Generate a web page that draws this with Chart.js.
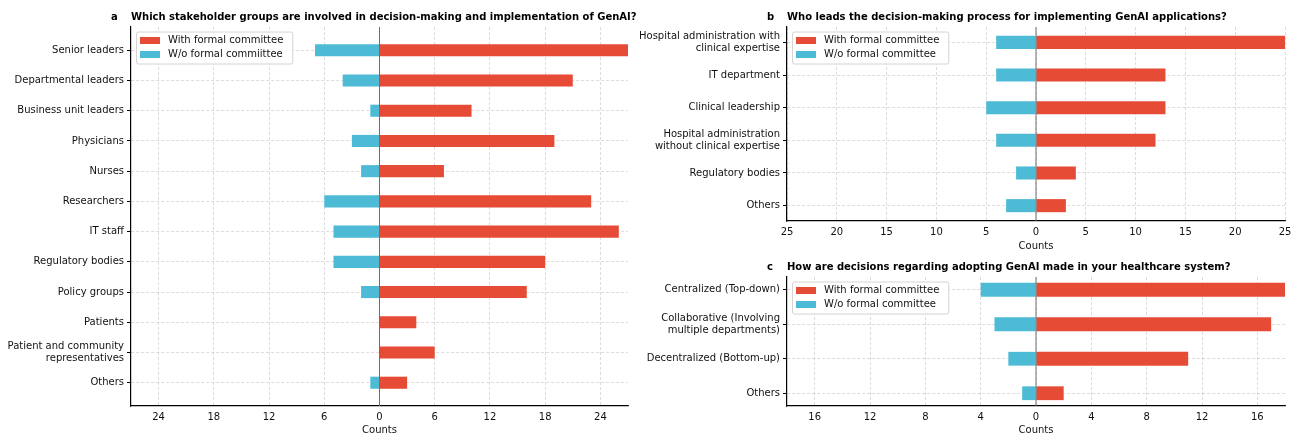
<!DOCTYPE html>
<html>
<head>
<meta charset="utf-8">
<title>GenAI governance survey</title>
<script src="https://cdn.jsdelivr.net/npm/chart.js@4.4.1/dist/chart.umd.min.js"></script>
<style>
  body { margin: 0; background: #fff; }
  #wrap { position: relative; width: 1298px; height: 434px; overflow: hidden; }
  #wrap canvas { position: absolute; }
</style>
</head>
<body>
<div id="wrap">
  <canvas id="chartA" width="640" height="440" style="left:0;top:0"></canvas>
  <canvas id="chartB" width="658" height="256" style="left:640px;top:0"></canvas>
  <canvas id="chartC" width="658" height="184" style="left:640px;top:256px"></canvas>
</div>
<script>
const COLOR_WITH = "#E64B35";
const COLOR_WITHOUT = "#4DBBD5";

// a - stakeholder groups
const stakeholderLabels = [
  "Senior leaders", "Departmental leaders", "Business unit leaders", "Physicians",
  "Nurses", "Researchers", "IT staff", "Regulatory bodies", "Policy groups",
  "Patients", ["Patient and community", "representatives"], "Others"
];
const stakeholderWith = [27, 21, 10, 19, 7, 23, 26, 18, 16, 4, 6, 3];
const stakeholderWithout = [7, 4, 1, 3, 2, 6, 5, 5, 2, 0, 0, 1];
const stakeholderTicks = [-24, -18, -12, -6, 0, 6, 12, 18, 24];

// b - who leads
const leadLabels = [
  ["Hospital administration with", "clinical expertise"], "IT department",
  "Clinical leadership", ["Hospital administration", "without clinical expertise"],
  "Regulatory bodies", "Others"
];
const leadWith = [25, 13, 13, 12, 4, 3];
const leadWithout = [4, 4, 5, 4, 2, 3];
const leadTicks = [-25, -20, -15, -10, -5, 0, 5, 10, 15, 20, 25];

// c - decision model
const modelLabels = [
  "Centralized (Top-down)", ["Collaborative (Involving", "multiple departments)"],
  "Decentralized (Bottom-up)", "Others"
];
const modelWith = [18, 17, 11, 2];
const modelWithout = [4, 3, 2, 1];
const modelTicks = [-16, -12, -8, -4, 0, 4, 8, 12, 16];

Chart.defaults.font.family = "'DejaVu Sans', sans-serif";
Chart.defaults.font.size = 10;
Chart.defaults.color = "#111";

const GRID_COLOR = "rgba(170,170,170,0.6)";

// zero line, panel title and the boxed legend in the upper left corner
const panelDecor = {
  id: "panelDecor",
  afterDraw(chart, args, o) {
    const { ctx, chartArea: area, scales } = chart;
    ctx.save();

    const x0 = scales.x.getPixelForValue(0);
    ctx.strokeStyle = "#6e6e6e";
    ctx.lineWidth = 1;
    ctx.beginPath();
    ctx.moveTo(x0, area.top);
    ctx.lineTo(x0, area.bottom);
    ctx.stroke();

    ctx.fillStyle = "#000";
    ctx.font = "bold 10px 'DejaVu Sans'";
    ctx.textBaseline = "middle";
    ctx.textAlign = "left";
    ctx.fillText(o.letter, area.left - 20, area.top - 10);
    ctx.fillText(o.title, area.left, area.top - 10);

    ctx.font = "10px 'DejaVu Sans'";
    const sets = chart.data.datasets;
    const textW = Math.max(...sets.map(d => ctx.measureText(d.label).width));
    const bx = area.left + 5, by = area.top + 4.5;
    const bw = 37 + textW + 4, bh = 32;
    ctx.fillStyle = "rgba(255,255,255,0.9)";
    ctx.strokeStyle = "#d4d4d4";
    ctx.lineWidth = 1;
    ctx.beginPath();
    ctx.roundRect(bx + 0.5, by + 0.5, bw, bh, 2);
    ctx.fill();
    ctx.stroke();
    sets.forEach((d, i) => {
      const cy = by + 9 + i * 14;
      ctx.fillStyle = d.backgroundColor;
      ctx.fillRect(bx + 4, cy - 3.5, 20, 7);
      ctx.fillStyle = "#111";
      ctx.fillText(d.label, bx + 32, cy);
    });

    ctx.restore();
  }
};

function buildPanel(canvasId, p) {
  const n = p.labels.length;
  return new Chart(document.getElementById(canvasId), {
    type: "bar",
    data: {
      datasets: [
        {
          label: "With formal committee",
          data: p.withData.map((v, i) => ({ x: v, y: i })),
          backgroundColor: COLOR_WITH
        },
        {
          label: p.withoutName,
          data: p.withoutData.map((v, i) => ({ x: -v, y: i })),
          backgroundColor: COLOR_WITHOUT
        }
      ]
    },
    options: {
      indexAxis: "y",
      responsive: false,
      animation: false,
      devicePixelRatio: 1,
      events: [],
      barPercentage: 0.4,
      categoryPercentage: 1,
      layout: { padding: p.padding },
      datasets: { bar: { borderWidth: 0, borderSkipped: false } },
      plugins: {
        legend: { display: false },
        tooltip: { enabled: false },
        panelDecor: { letter: p.letter, title: p.title }
      },
      scales: {
        x: {
          type: "linear",
          stacked: true,
          min: -p.limit,
          max: p.limit,
          z: 1,
          afterBuildTicks: (scale) => { scale.ticks = p.ticks.map(v => ({ value: v })); },
          afterFit: (scale) => { scale.height = p.xHeight; },
          ticks: { padding: 5, callback: (v) => Math.abs(v), maxRotation: 0 },
          grid: { color: GRID_COLOR, lineWidth: 0.7, drawTicks: false },
          border: { color: "#000", width: 1.2, dash: [3, 2] },
          title: { display: true, text: "Counts", padding: { top: 0, bottom: 4 } }
        },
        y: {
          type: "linear",
          stacked: true,
          reverse: true,
          offset: false,
          min: -p.margin,
          max: n - 1 + p.margin,
          z: 1,
          afterBuildTicks: (scale) => { scale.ticks = p.labels.map((_, i) => ({ value: i })); },
          afterFit: (scale) => { scale.width = p.yWidth; },
          ticks: {
            padding: 3,
            callback: (v) => p.labels[v],
            font: { lineHeight: 1.15 }
          },
          grid: {
            offset: false,
            color: GRID_COLOR,
            lineWidth: 0.7,
            tickLength: 4,
            tickColor: "#000",
            tickWidth: 1,
            tickBorderDash: [1, 0]
          },
          border: { color: "#000", width: 1.2, dash: [3, 2] }
        }
      }
    },
    plugins: [panelDecor]
  });
}

window.addEventListener("load", () => {
  buildPanel("chartA", {
    letter: "a",
    title: "Which stakeholder groups are involved in decision-making and implementation of GenAI?",
    labels: stakeholderLabels,
    withData: stakeholderWith,
    withoutData: stakeholderWithout,
    withoutName: "W/o formal commiittee",
    ticks: stakeholderTicks,
    limit: 27,
    margin: 0.77,
    yWidth: 131,
    xHeight: 34,
    padding: { top: 27, right: 12, bottom: 0, left: 0 }
  });

  buildPanel("chartB", {
    letter: "b",
    title: "Who leads the decision-making process for implementing GenAI applications?",
    labels: leadLabels,
    withData: leadWith,
    withoutData: leadWithout,
    withoutName: "W/o formal committee",
    ticks: leadTicks,
    limit: 25,
    margin: 0.47,
    yWidth: 147,
    xHeight: 35,
    padding: { top: 27, right: 13, bottom: 0, left: 0 }
  });

  buildPanel("chartC", {
    letter: "c",
    title: "How are decisions regarding adopting GenAI made in your healthcare system?",
    labels: modelLabels,
    withData: modelWith,
    withoutData: modelWithout,
    withoutName: "W/o formal committee",
    ticks: modelTicks,
    limit: 18,
    margin: 0.37,
    yWidth: 147,
    xHeight: 34,
    padding: { top: 21, right: 13, bottom: 0, left: 0 }
  });
});
</script>
</body>
</html>
